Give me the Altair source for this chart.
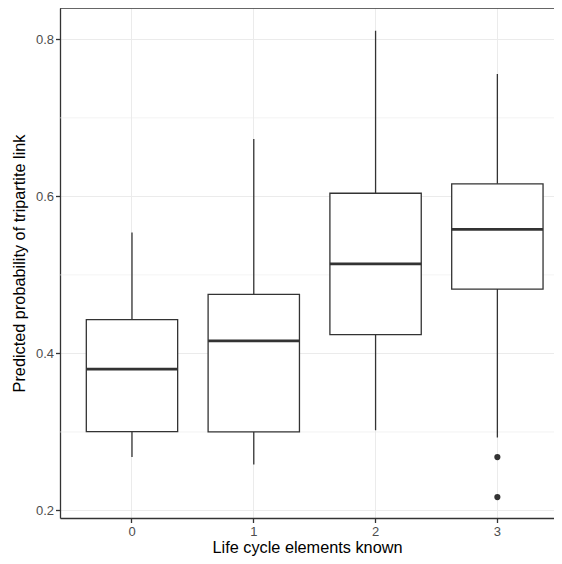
import altair as alt
import pandas as pd

# ---- data ----
groups = ["0", "1", "2", "3"]
whisker_low = [0.268, 0.2585, 0.302, 0.293]
q1 = [0.3005, 0.300, 0.424, 0.482]
median = [0.380, 0.416, 0.514, 0.558]
q3 = [0.443, 0.4753, 0.604, 0.616]
whisker_high = [0.554, 0.673, 0.811, 0.756]
outlier_group = ["3", "3"]
outlier_value = [0.268, 0.217]
y_major = [0.2, 0.4, 0.6, 0.8]
y_minor = [0.3, 0.5, 0.7]
y_domain = [0.1904, 0.8399]

box_df = pd.DataFrame({
    "group": groups, "low": whisker_low, "q1": q1,
    "median": median, "q3": q3, "high": whisker_high,
})
out_df = pd.DataFrame({"group": outlier_group, "value": outlier_value})
minor_df = pd.DataFrame({"y": y_minor})
top_df = pd.DataFrame({"t": [y_domain[1]]})

DARK = "#333333"
GRID = "#ebebeb"
FONT = "Liberation Sans"
LW = 1.3

xscale = alt.Scale(domain=groups, paddingInner=0.25, paddingOuter=0.153, align=0.706)
yscale = alt.Scale(domain=y_domain, nice=False, zero=False)

x_axis = alt.Axis(title="Life cycle elements known", labelAngle=0,
                  labelPadding=3, titlePadding=0.5)
y_axis = alt.Axis(title="Predicted probability of tripartite link",
                  values=y_major, format=".1f", labelPadding=2, titlePadding=8)

def X(field="group:O"):
    return alt.X(field, scale=xscale, sort=groups, axis=x_axis)

def Y(field):
    return alt.Y(field, scale=yscale, axis=y_axis)

minor = alt.Chart(minor_df).mark_rule(color=GRID, strokeWidth=0.6).encode(y=Y("y:Q"))

top = alt.Chart(top_df).mark_rule(color=DARK, strokeWidth=LW).encode(y=Y("t:Q"))

whisk = alt.Chart(box_df).mark_rule(color=DARK, strokeWidth=LW).encode(
    x=X(), y=Y("low:Q"), y2="high:Q")

box = alt.Chart(box_df).mark_bar(fill="white", stroke=DARK, strokeWidth=LW).encode(
    x=X(), y=Y("q1:Q"), y2="q3:Q")

med = alt.Chart(box_df).mark_tick(color=DARK, thickness=2.6, size=91.3, opacity=1).encode(
    x=X(), y=Y("median:Q"))

outl = alt.Chart(out_df).mark_circle(color=DARK, opacity=1, size=38).encode(
    x=X(), y=Y("value:Q"))

chart = alt.layer(minor, whisk, box, med, outl, top).properties(
    width=494, height=510,
    padding={"left": 52, "top": 0, "right": 0, "bottom": 38},
    autosize=alt.AutoSizeParams(type="none"),
).configure_view(stroke="transparent").configure_axis(
    grid=True, gridColor=GRID, gridWidth=1.07,
    domainColor=DARK, domainWidth=LW,
    tickColor=DARK, tickWidth=LW, tickSize=4.5,
    labelColor="#4d4d4d", labelFontSize=13, labelFont=FONT,
    titleColor="black", titleFontSize=16.3, titleFont=FONT, titleFontWeight="normal",
)

chart.save("out.html", embed_options={"renderer": "svg", "actions": False})
